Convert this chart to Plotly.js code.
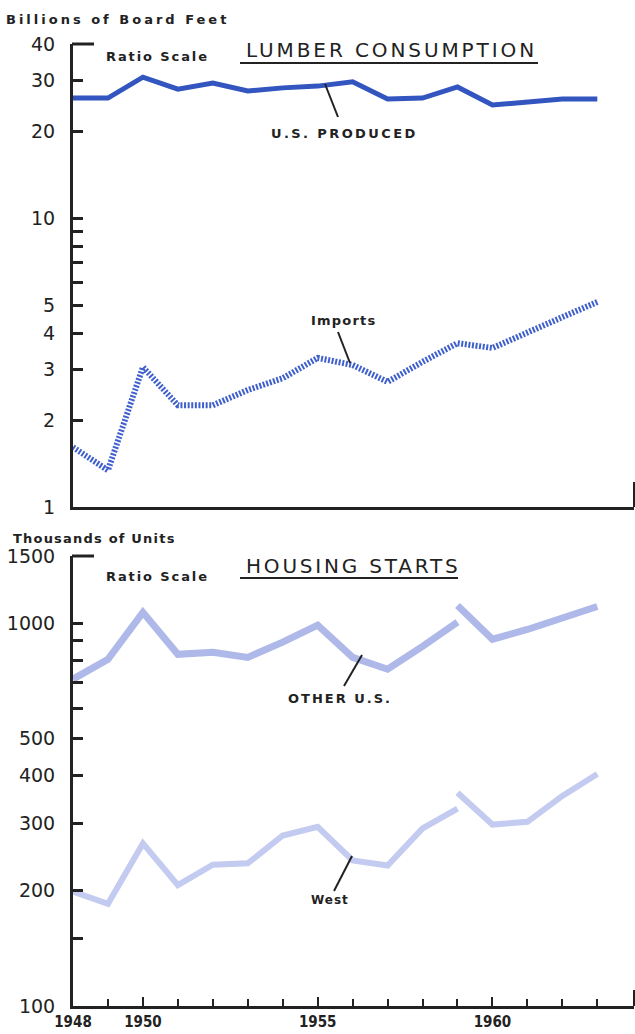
<!DOCTYPE html>
<html>
<head>
<meta charset="utf-8">
<script src="https://cdn.plot.ly/plotly-3.0.1.min.js"></script>
<style>html,body{margin:0;padding:0;background:#fff;}</style>
</head>
<body>
<div id="chart" style="width:635px;height:1034px;"></div>
<script>
// ---- Data ----
const years = [1948,1949,1950,1951,1952,1953,1954,1955,1956,1957,1958,1959,1960,1961,1962,1963];
// Lumber consumption, billions of board feet
const usProduced = [26.0,26.0,30.7,27.9,29.3,27.5,28.2,28.6,29.6,25.8,26.0,28.4,24.6,25.2,25.8,25.8];
const imports    = [1.61,1.34,3.05,2.25,2.25,2.54,2.79,3.28,3.10,2.71,3.18,3.69,3.55,4.03,4.54,5.12];
// Housing starts, thousands of units (series break in 1959)
const yearsOld = [1948,1949,1950,1951,1952,1953,1954,1955,1956,1957,1958,1959];
const yearsNew = [1959,1960,1961,1962,1963];
const otherUSOld = [715,806,1069,830,840,815,893,989,815,759,871,1007];
const otherUSNew = [1114,909,964,1037,1107];
const westOld = [199,185,266,207,234,236,279,294,240,233,291,328];
const westNew = [361,298,303,354,404];
// Tick labels
const topTickVals = [1,2,3,4,5,6,7,8,9,10,20,30,40];
const topTickText = ["1","2","3","4","5","","","","","10","20","30","40"];
const botTickVals = [100,150,200,300,400,500,600,700,800,900,1000,1500];
const botTickText = ["100","","200","300","400","500","","","","","1000","1500"];
const xMajorVals = [1948,1950,1955,1960];
const xMajorText = ["1948","1950","1955","1960"];

// ---- Layout helpers (pixel -> paper) ----
const W = 635, H = 1034;
const px = x => x / W;
const py = y => 1 - y / H;

const ink = "#222222";
const tickFont = {family: "DejaVu Sans, sans-serif", size: 19, color: ink};

const traces = [
  {x: years, y: usProduced, xaxis: "x", yaxis: "y", mode: "lines",
   line: {color: "#3255bf", width: 5}, hoverinfo: "skip"},
  {x: years, y: imports, xaxis: "x", yaxis: "y", mode: "lines",
   line: {color: "#3f60cc", width: 6, dash: "2px,1.6px"}, hoverinfo: "skip"},
  {x: yearsOld, y: otherUSOld, xaxis: "x2", yaxis: "y2", mode: "lines",
   line: {color: "#aeb8e9", width: 7}, hoverinfo: "skip"},
  {x: yearsNew, y: otherUSNew, xaxis: "x2", yaxis: "y2", mode: "lines",
   line: {color: "#aeb8e9", width: 7}, hoverinfo: "skip"},
  {x: yearsOld, y: westOld, xaxis: "x2", yaxis: "y2", mode: "lines",
   line: {color: "#c4cbf0", width: 6}, hoverinfo: "skip"},
  {x: yearsNew, y: westNew, xaxis: "x2", yaxis: "y2", mode: "lines",
   line: {color: "#c4cbf0", width: 6}, hoverinfo: "skip"}
];

const xRange = [1948, 1964.05];

function lbl(text, left, cy, size, bold, spacing) {
  const inner = '<span style="letter-spacing:' + spacing + 'px">' + text + '</span>';
  return {xref: "paper", yref: "paper", x: px(left), y: py(cy), xanchor: "left", yanchor: "middle",
    text: inner, showarrow: false, borderpad: 0,
    font: {family: "DejaVu Sans, sans-serif", size: size, color: ink, weight: bold ? "bold" : "normal"}};
}
function seg(x0, y0, x1, y1, w) {
  return {type: "line", xref: "paper", yref: "paper", x0: px(x0), y0: py(y0), x1: px(x1), y1: py(y1),
    line: {color: ink, width: w}};
}

const layout = {
  width: W, height: H,
  margin: {l: 0, r: 0, t: 0, b: 0},
  paper_bgcolor: "#ffffff", plot_bgcolor: "rgba(0,0,0,0)",
  showlegend: false,
  xaxis: {domain: [px(73), px(634)], range: xRange, anchor: "y",
    showline: true, linecolor: ink, linewidth: 3, showgrid: false, zeroline: false,
    showticklabels: false, ticks: "", fixedrange: true},
  yaxis: {domain: [py(507), py(44)], type: "log", range: [0, Math.log10(40)], anchor: "x",
    showline: true, linecolor: ink, linewidth: 3, showgrid: false, zeroline: false,
    tickvals: topTickVals, ticktext: topTickText, ticks: "inside", ticklen: 10, tickwidth: 3,
    tickcolor: ink, tickfont: tickFont, ticklabelstandoff: 11, automargin: false, fixedrange: true},
  xaxis2: {domain: [px(73), px(634)], range: xRange, anchor: "y2",
    showline: true, linecolor: ink, linewidth: 3, showgrid: false, zeroline: false,
    tickvals: xMajorVals, ticktext: xMajorText, ticks: "inside", ticklen: 9, tickwidth: 2,
    tickcolor: ink, tickangle: 0,
    tickfont: {family: "DejaVu Sans Condensed, DejaVu Sans, sans-serif", size: 15, color: ink, weight: "bold"},
    minor: {tickvals: years, ticks: "inside", ticklen: 7, tickwidth: 2, tickcolor: ink, showgrid: false},
    automargin: false, fixedrange: true},
  yaxis2: {domain: [py(1006), py(556)], type: "log", range: [2, Math.log10(1500)], anchor: "x2",
    showline: true, linecolor: ink, linewidth: 3, showgrid: false, zeroline: false,
    tickvals: botTickVals, ticktext: botTickText, ticks: "inside", ticklen: 10, tickwidth: 3,
    tickcolor: ink, tickfont: tickFont, ticklabelstandoff: 11, automargin: false, fixedrange: true},
  annotations: [
    lbl("Billions of Board Feet", 5, 20, 13, true, 3.0),
    lbl("Ratio Scale", 105, 57, 13, true, 1.9),
    lbl("LUMBER CONSUMPTION", 245, 50, 20, false, 2.9),
    lbl("U.S. PRODUCED", 270, 133, 13, true, 2.4),
    lbl("Imports", 310, 320, 13, true, 1.2),
    lbl("Thousands of Units", 12, 538, 13, true, 1.2),
    lbl("Ratio Scale", 105, 576, 13, true, 1.9),
    lbl("HOUSING STARTS", 245, 566, 20, false, 2.8),
    lbl("OTHER U.S.", 287, 698, 13, true, 2.0),
    lbl("West", 310, 900, 12, true, 1.0)
  ],
  shapes: [
    seg(72, 44, 94, 44, 3),
    seg(72, 556, 94, 556, 3),
    seg(634, 482, 634, 507, 2),
    seg(634, 990, 634, 1006, 2),
    seg(240, 63, 538, 63, 2),
    seg(240, 578, 458, 578, 2),
    seg(325, 84, 338, 117, 2),
    seg(338, 332, 350, 363, 2),
    seg(362, 655, 344, 686, 2),
    seg(352, 856, 334, 891, 2)
  ]
};

Plotly.newPlot("chart", traces, layout, {staticPlot: true, displayModeBar: false});
</script>
</body>
</html>
